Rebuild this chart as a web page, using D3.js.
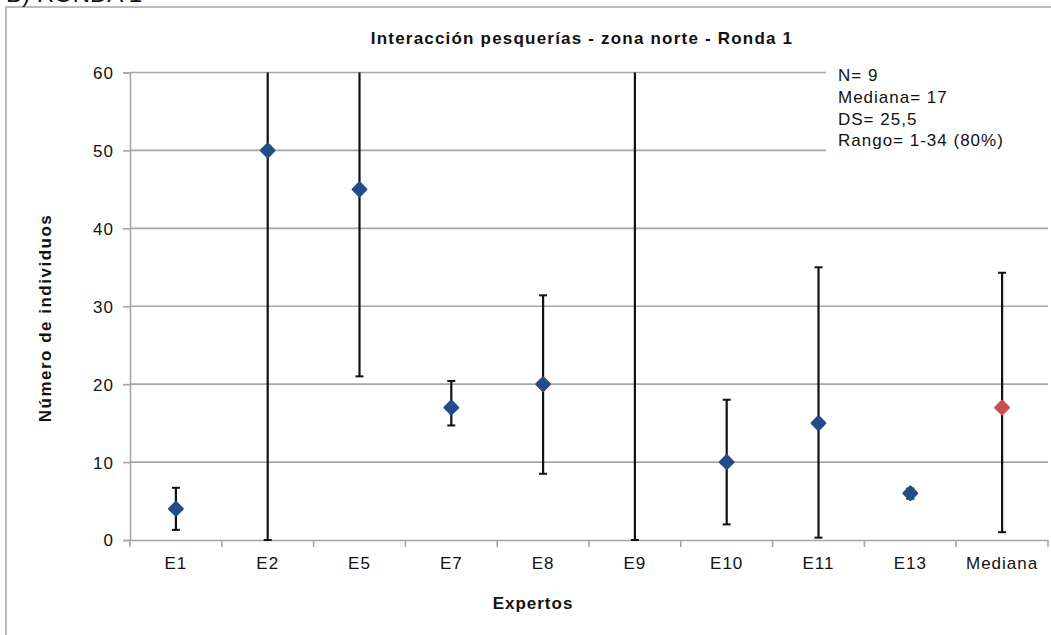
<!DOCTYPE html>
<html><head><meta charset="utf-8">
<script src="https://cdn.jsdelivr.net/npm/d3@7"></script>
<style>
html,body{margin:0;padding:0;background:#fff;}
svg{display:block;}
text{font-family:"Liberation Sans",Arial,sans-serif;fill:#111;}
</style></head>
<body>
<svg id="chart" width="1051" height="635"></svg>
<script>
const categories = ["E1","E2","E5","E7","E8","E9","E10","E11","E13","Mediana"];
const values     = [4, 50, 45, 17, 20, null, 10, 15, 6, 17];
const errLow     = [1.3, 0, 21, 14.7, 8.5, 0, 2, 0.3, 5.3, 1];
const errHigh    = [6.7, 95, 75, 20.4, 31.4, 120, 18, 35, 6.6, 34.3];
const yTicks     = [0,10,20,30,40,50,60];
const statsLines = ["N= 9","Mediana= 17","DS= 25,5","Rango= 1-34 (80%)"];
const titleText  = "Interacción pesquerías - zona norte - Ronda 1";

const svg = d3.select("#chart");
const m = {left:130, right:1048, top:72.5, bottom:540};
const FS = 17, LS = 1.0;

// outer frame
svg.append("path").attr("d","M6,640V7H1060").attr("fill","none").attr("stroke","#a6a6a6").attr("stroke-width",1.5);
svg.append("text").attr("x",6).attr("y",2).attr("font-size",24).text("B) RONDA 1");

const x = d3.scaleBand().domain(categories).range([m.left,m.right]).padding(0);
const y = d3.scaleLinear().domain([0,60]).range([m.bottom,m.top]);

// gridlines
svg.append("g").selectAll("line").data(yTicks.filter(t=>t>0)).join("line")
  .attr("x1",m.left).attr("x2",m.right).attr("y1",d=>y(d)).attr("y2",d=>y(d))
  .attr("stroke","#a6a6a6").attr("stroke-width",1.6);

// y axis
const ya = svg.append("g").attr("transform",`translate(${m.left},0)`)
  .call(d3.axisLeft(y).tickValues(yTicks).tickSize(7).tickPadding(9));
ya.select(".domain").attr("stroke","#a6a6a6").attr("stroke-width",1.6);
ya.selectAll(".tick line").attr("stroke","#a6a6a6").attr("stroke-width",1.6);
ya.selectAll(".tick text").attr("font-size",FS).attr("letter-spacing",LS).attr("font-family","Liberation Sans, Arial, sans-serif").attr("fill","#111").attr("dy","0.35em");

// x axis
const xa = svg.append("g").attr("transform",`translate(0,${m.bottom})`)
  .call(d3.axisBottom(x).tickSize(0).tickPadding(17));
xa.select(".domain").attr("stroke","#a6a6a6").attr("stroke-width",1.6);
xa.selectAll(".tick text").attr("font-size",FS).attr("letter-spacing",LS).attr("font-family","Liberation Sans, Arial, sans-serif").attr("fill","#111");
// boundary ticks
const bounds = categories.map(c=>x(c)).concat([x(categories[categories.length-1])+x.bandwidth()]);
svg.append("g").selectAll("line").data(bounds).join("line")
  .attr("x1",d=>d).attr("x2",d=>d).attr("y1",m.bottom).attr("y2",m.bottom+7)
  .attr("stroke","#a6a6a6").attr("stroke-width",1.6);

// stats box (white background hides gridlines)
svg.append("rect").attr("x",826).attr("y",62).attr("width",222).attr("height",92).attr("fill","#fff");
svg.append("g").selectAll("text").data(statsLines).join("text")
  .attr("x",838).attr("y",(d,i)=>75+i*21.8).attr("dy","0.35em")
  .attr("font-size",FS).attr("letter-spacing",LS).text(d=>d);

// clip
svg.append("clipPath").attr("id","plotclip").append("rect")
  .attr("x",m.left).attr("y",m.top).attr("width",m.right-m.left).attr("height",m.bottom-m.top+4);

const data = categories.map((c,i)=>({c, v:values[i], lo:errLow[i], hi:errHigh[i], i}));
const eg = svg.append("g").attr("clip-path","url(#plotclip)");
const cx = d=>x(d.c)+x.bandwidth()/2;
eg.selectAll("line.bar").data(data).join("line").attr("class","bar")
  .attr("x1",cx).attr("x2",cx).attr("y1",d=>y(d.lo)).attr("y2",d=>y(d.hi))
  .attr("stroke","#111").attr("stroke-width",2.2);
eg.selectAll("line.capl").data(data).join("line").attr("class","capl")
  .attr("x1",d=>cx(d)-4).attr("x2",d=>cx(d)+4).attr("y1",d=>y(d.lo)).attr("y2",d=>y(d.lo))
  .attr("stroke","#111").attr("stroke-width",2);
eg.selectAll("line.caph").data(data).join("line").attr("class","caph")
  .attr("x1",d=>cx(d)-4).attr("x2",d=>cx(d)+4).attr("y1",d=>y(d.hi)).attr("y2",d=>y(d.hi))
  .attr("stroke","#111").attr("stroke-width",2);

// markers
const diamond = d3.symbol().type(d3.symbolSquare).size(88);
eg.selectAll("path.mk").data(data.filter(d=>d.v!==null)).join("path").attr("class","mk")
  .attr("d",diamond)
  .attr("transform",d=>`translate(${cx(d)},${y(d.v)}) rotate(45)`)
  .attr("fill",d=>d.c==="Mediana"?"#c9504c":"#224d88")
  .attr("stroke",d=>d.c==="Mediana"?"#c9504c":"#224d88").attr("stroke-width",2.5).attr("stroke-linejoin","round");

// titles
svg.append("text").attr("x",582).attr("y",38).attr("dy","0.35em").attr("text-anchor","middle")
  .attr("font-size",FS).attr("letter-spacing",1.2).attr("font-weight","bold").text(titleText);
svg.append("text").attr("x",533).attr("y",603).attr("dy","0.35em").attr("text-anchor","middle")
  .attr("font-size",FS).attr("letter-spacing",1.0).attr("font-weight","bold").text("Expertos");
svg.append("text").attr("transform","translate(45,318) rotate(-90)").attr("dy","0.35em").attr("text-anchor","middle")
  .attr("font-size",FS).attr("letter-spacing",1.5).attr("font-weight","bold").text("Número de individuos");
</script>
</body></html>
